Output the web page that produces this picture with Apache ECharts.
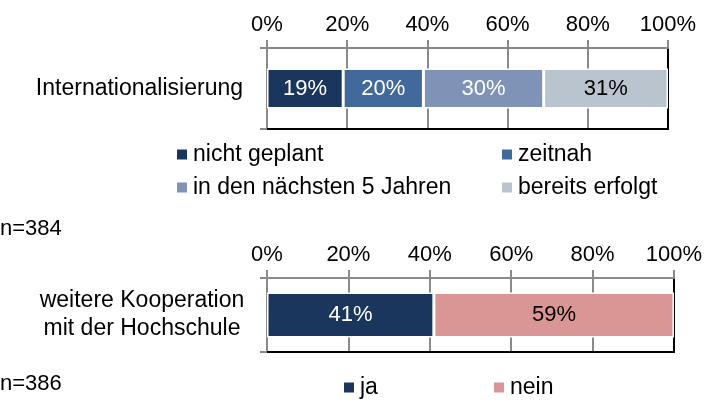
<!DOCTYPE html>
<html>
<head>
<meta charset="utf-8">
<script src="https://cdn.jsdelivr.net/npm/echarts@6/dist/echarts.min.js"></script>
<style>
  html, body { margin: 0; padding: 0; background: #fff; }
  #chart { width: 705px; height: 400px; }
</style>
</head>
<body>
<div id="chart"></div>
<script>
// Survey results: planned internationalisation and further cooperation
const topCategories = ['Internationalisierung'];
const topSeriesNames = ['nicht geplant', 'zeitnah', 'in den nächsten 5 Jahren', 'bereits erfolgt'];
const topValues = [19, 20, 30, 31];

const bottomCategories = ['weitere Kooperation\nmit der Hochschule'];
const bottomSeriesNames = ['ja', 'nein'];
const bottomValues = [41, 59];

const sampleSizes = ['n=384', 'n=386'];

// Styling
const FONT = '"Liberation Sans", Arial, sans-serif';
const GRAY = '#8a8a8a';
const topColors = ['#1b365d', '#41699c', '#7e93b5', '#b9c4cf'];
const topLabelColors = ['#fff', '#fff', '#fff', '#000'];
const bottomColors = ['#1b365d', '#da9694'];
const bottomLabelColors = ['#fff', '#000'];

function valueAxis(gridIndex) {
  return {
    type: 'value', gridIndex, position: 'top', min: 0, max: 100, interval: 20,
    axisLine: { show: true, onZero: false, lineStyle: { color: GRAY, width: 2 } },
    axisTick: { show: true, length: 8, lineStyle: { color: GRAY, width: 2 } },
    splitLine: { show: true, lineStyle: { color: GRAY, width: 2 } },
    axisLabel: { formatter: '{value}%', fontSize: 22, color: '#000', margin: 12, fontFamily: FONT }
  };
}
function frameBottom(gridIndex) {
  return {
    type: 'value', gridIndex, position: 'bottom', min: 0, max: 100,
    axisLine: { show: true, onZero: false, lineStyle: { color: '#000', width: 2 } },
    axisTick: { show: false }, axisLabel: { show: false }, splitLine: { show: false }
  };
}
function categoryAxis(gridIndex, data, labelOpts) {
  return {
    type: 'category', gridIndex, data, position: 'left',
    axisLine: { show: true, onZero: false, lineStyle: { color: GRAY, width: 2 } },
    axisTick: { show: true, length: 7, lineStyle: { color: GRAY, width: 2 } },
    axisLabel: Object.assign({ fontSize: 23, color: '#000', fontFamily: FONT }, labelOpts)
  };
}
function frameRight(gridIndex, data) {
  return {
    type: 'category', gridIndex, data, position: 'right',
    axisLine: { show: true, onZero: false, lineStyle: { color: '#000', width: 2 } },
    axisTick: { show: false }, axisLabel: { show: false }
  };
}
function barSeries(names, values, colors, labelColors, xi, yi, width) {
  return names.map((name, i) => ({
    type: 'bar', name, stack: 'total' + xi, xAxisIndex: xi, yAxisIndex: yi,
    data: [values[i]], barWidth: width,
    itemStyle: { color: colors[i], borderColor: '#fff', borderWidth: 1.5 },
    label: { show: true, position: 'inside', formatter: '{c}%', fontSize: 22,
             color: labelColors[i], fontFamily: FONT }
  }));
}
function legendAt(name, left, top) {
  return {
    data: [name], left, top, padding: 0, itemWidth: 12, itemHeight: 12, itemGap: 5,
    icon: 'rect', selectedMode: false,
    textStyle: { fontSize: 23, color: '#000', fontFamily: FONT }
  };
}

const chart = echarts.init(document.getElementById('chart'), null, { renderer: 'canvas' });
chart.setOption({
  animation: false,
  backgroundColor: '#fff',
  textStyle: { fontFamily: FONT },
  grid: [
    { left: 267, right: 37, top: 48, height: 81, outerBoundsMode: 'none' },
    { left: 267, right: 31, top: 278, height: 74, outerBoundsMode: 'none' }
  ],
  xAxis: [valueAxis(0), frameBottom(0), valueAxis(1), frameBottom(1)],
  yAxis: [
    categoryAxis(0, topCategories, { margin: 24 }),
    frameRight(0, topCategories),
    categoryAxis(1, bottomCategories, { margin: 125, align: 'center', lineHeight: 28, padding: [12, 0, 0, 0] }),
    frameRight(1, bottomCategories)
  ],
  legend: [
    legendAt(topSeriesNames[0], 175, 143),
    legendAt(topSeriesNames[1], 500, 143),
    legendAt(topSeriesNames[2], 175, 176),
    legendAt(topSeriesNames[3], 500, 176),
    legendAt(bottomSeriesNames[0], 342, 376),
    legendAt(bottomSeriesNames[1], 492, 376)
  ],
  graphic: [
    { type: 'text', left: 0, top: 218, style: { text: sampleSizes[0], fontSize: 22, fill: '#000', fontFamily: FONT } },
    { type: 'text', left: 0, top: 373, style: { text: sampleSizes[1], fontSize: 22, fill: '#000', fontFamily: FONT } }
  ],
  series: [
    ...barSeries(topSeriesNames, topValues, topColors, topLabelColors, 0, 0, 40),
    ...barSeries(bottomSeriesNames, bottomValues, bottomColors, bottomLabelColors, 2, 2, 45)
  ]
});
</script>
</body>
</html>
